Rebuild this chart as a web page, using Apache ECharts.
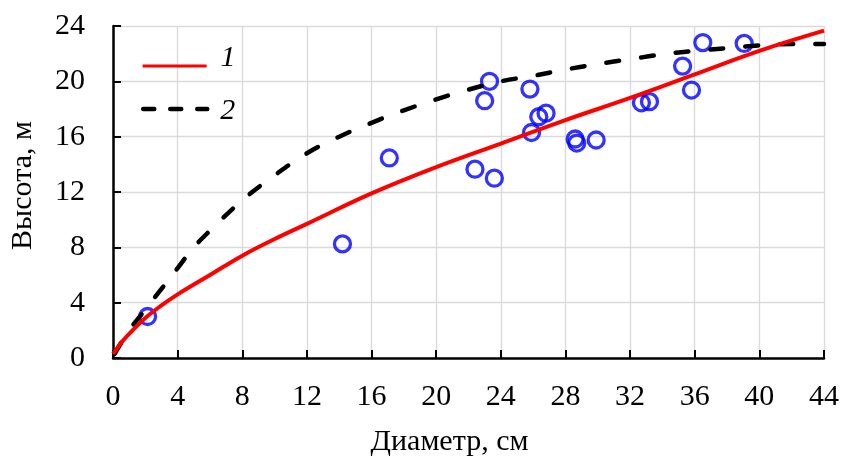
<!DOCTYPE html>
<html>
<head>
<meta charset="utf-8">
<script src="https://cdn.jsdelivr.net/npm/echarts@6/dist/echarts.min.js"></script>
<style>
  html, body { margin: 0; padding: 0; background: #fff; }
  #chart { width: 842px; height: 457px; }
</style>
</head>
<body>
<div id="chart"></div>
<script>
// Measured trees: diameter (cm) and height (m)
const treeDiameter = [2.14, 14.2, 17.1, 22.4, 23.0, 23.3, 23.6, 25.8, 25.9, 26.35, 26.8, 28.6, 28.7, 29.9, 32.7, 33.2, 35.25, 35.8, 36.5, 39.06];
const treeHeight   = [3.0, 8.25, 14.46, 13.65, 18.6, 20.0, 13.0, 19.44, 16.3, 17.44, 17.7, 15.83, 15.54, 15.76, 18.45, 18.53, 21.1, 19.37, 22.8, 22.74];

// Height–diameter curve 1
const curve1Diameter = [0, 0.25, 0.5, 1, 2, 3, 4, 6, 8, 10, 12, 16, 20, 24, 28, 32, 36, 40, 44];
const curve1Height   = [0.3, 0.7, 1.1, 1.75, 2.9, 3.8, 4.6, 6.0, 7.4, 8.6, 9.7, 11.9, 13.8, 15.5, 17.2, 18.8, 20.5, 22.2, 23.66];

// Height–diameter curve 2
const curve2Diameter = [0.1, 1, 2, 3, 4, 5, 6, 8, 10, 12, 14, 16, 18, 20, 22, 24, 26, 28, 30, 32, 34, 36, 38, 40, 42, 44];
const curve2Height   = [0.3, 2.0, 3.5, 5.0, 6.5, 8.0, 9.2, 11.4, 13.2, 14.8, 16.0, 17.0, 17.9, 18.7, 19.4, 20.0, 20.4, 20.85, 21.25, 21.6, 21.95, 22.2, 22.4, 22.6, 22.7, 22.7];

// Axis settings
const xTicks = { min: 0, max: 44, step: 4 };
const yTicks = { min: 0, max: 24, step: 4 };
const xTitle = 'Диаметр, см';
const yTitle = 'Высота, м';
const seriesNames = ['1', '2'];

const pairs = (xs, ys) => xs.map((x, i) => [x, ys[i]]);

const serif = 'Liberation Serif, Times New Roman, serif';

const axisCommon = {
  axisLine: { show: true, lineStyle: { color: '#000', width: 2.5 } },
  axisTick: { show: true, inside: true, length: 8, lineStyle: { color: '#000', width: 2 } },
  splitLine: { show: true, lineStyle: { color: '#dadada', width: 1.4 } },
  axisLabel: { color: '#000', fontFamily: serif, fontSize: 30 },
  nameTextStyle: { color: '#000', fontFamily: serif, fontSize: 30 }
};

// Italic legend label; the padding nudges it relative to the line sample
const legendText = (pad) => ({
  color: '#000', fontFamily: serif, fontSize: 30, fontStyle: 'italic',
  rich: { t: { color: '#000', fontFamily: serif, fontSize: 30, fontStyle: 'italic', padding: pad } }
});

// Line-only legend sample (no marker in the middle)
const noMarker = { color: 'rgba(0,0,0,0)', borderWidth: 0, opacity: 0 };

const chart = echarts.init(document.getElementById('chart'), null, { renderer: 'canvas' });

chart.setOption({
  animation: false,
  backgroundColor: '#fff',
  grid: { left: 113, right: 18, top: 26, bottom: 99, containLabel: false, outerBoundsMode: 'none' },
  legend: [
    {
      data: [{ name: seriesNames[0], itemStyle: noMarker, lineStyle: { width: 3.2 } }],
      left: 141, top: 43, padding: 0,
      itemWidth: 64, itemHeight: 14,
      formatter: '{t|{name}}',
      textStyle: legendText([0, 0, 16, 9])
    },
    {
      data: [{ name: seriesNames[1], itemStyle: noMarker, lineStyle: { width: 4.5, type: [11, 16], cap: 'round' } }],
      left: 141, top: 96, padding: 0,
      itemWidth: 64, itemHeight: 14,
      formatter: '{t|{name}}',
      textStyle: legendText([4, 0, 0, 8])
    }
  ],
  xAxis: Object.assign({}, axisCommon, {
    type: 'value',
    min: xTicks.min, max: xTicks.max, interval: xTicks.step,
    name: xTitle, nameLocation: 'middle', nameGap: 69,
    nameTextStyle: Object.assign({}, axisCommon.nameTextStyle, { padding: [0, 38, 0, 0] }),
    axisLabel: Object.assign({}, axisCommon.axisLabel, { margin: 24 })
  }),
  yAxis: Object.assign({}, axisCommon, {
    type: 'value',
    min: yTicks.min, max: yTicks.max, interval: yTicks.step,
    name: yTitle, nameLocation: 'middle', nameGap: 75,
    nameTextStyle: Object.assign({}, axisCommon.nameTextStyle, { padding: [0, 0, 0, 13] }),
    axisLabel: Object.assign({}, axisCommon.axisLabel, { margin: 28 })
  }),
  series: [
    {
      type: 'scatter',
      data: pairs(treeDiameter, treeHeight),
      symbol: 'circle',
      symbolSize: 16,
      itemStyle: { color: 'rgba(0,0,0,0)', borderColor: '#0000ff', borderWidth: 3.3 },
      z: 1
    },
    {
      name: seriesNames[1],
      type: 'line',
      data: pairs(curve2Diameter, curve2Height),
      smooth: 0.4,
      showSymbol: false,
      symbol: 'none',
      lineStyle: { color: '#000', width: 4.5, type: [13, 22], cap: 'round' },
      itemStyle: { color: '#000' },
      z: 2
    },
    {
      name: seriesNames[0],
      type: 'line',
      data: pairs(curve1Diameter, curve1Height),
      smooth: 0.4,
      showSymbol: false,
      symbol: 'none',
      lineStyle: { color: '#ff0000', width: 4 },
      itemStyle: { color: '#ff0000' },
      z: 3
    }
  ]
});
</script>
</body>
</html>
